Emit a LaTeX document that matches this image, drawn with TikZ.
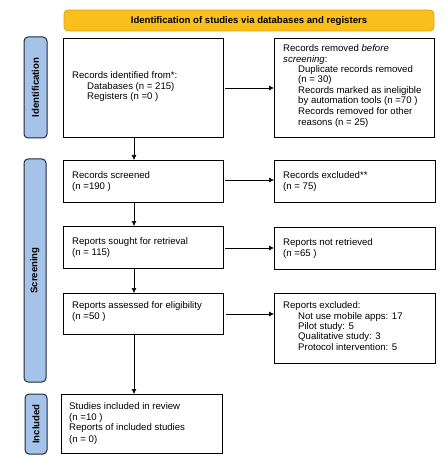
\documentclass[tikz,border=0pt]{standalone}
\usepackage{fontspec}
\setmainfont{Liberation Sans}
\usetikzlibrary{arrows.meta}
\definecolor{bannerfill}{HTML}{F9BF1C}
\definecolor{bannerdraw}{HTML}{E3A312}
\definecolor{sidefill}{HTML}{A5C3E8}
\definecolor{sidedraw}{HTML}{1E2A3A}
\begin{document}
\begin{tikzpicture}[x=1pt,y=-1pt,
  every node/.style={font=\fontsize{9.6}{10.4}\selectfont},
  box/.style={draw=black, line width=0.9pt, fill=white},
  sidebar/.style={draw=sidedraw, line width=1pt, fill=sidefill, rounded corners=4pt},
  sidelabel/.style={rotate=90, font=\fontsize{9.6}{10.4}\selectfont\bfseries},
  txt/.style={anchor=north west, inner sep=0pt, align=left},
  arr/.style={-{Latex[length=5pt,width=5pt]}, line width=0.6pt}]
\useasboundingbox (0,0) rectangle (446,465);
% banner
\draw[fill=bannerfill, draw=bannerdraw, line width=0.8pt, rounded corners=4pt] (64,10) rectangle (434,31);
\node[font=\fontsize{9.6}{10.4}\selectfont\bfseries] (banner) at (249,21) {Identification of studies via databases and registers};
% side bars
\draw[sidebar] (24,37) rectangle (47,138);
\node[sidelabel] (sidA) at (35.5,87.5) {Identification};
\draw[sidebar] (24,159) rectangle (46,382);
\node[sidelabel] (sidB) at (35,270.5) {Screening};
\draw[sidebar] (25,394) rectangle (47,454);
\node[sidelabel] (sidC) at (36,424) {Included};
% left boxes
\node[box, minimum width=160, minimum height=99, anchor=north west] (b1) at (63,38) {};
\node[box, minimum width=160, minimum height=42, anchor=north west] (b2) at (63,160) {};
\node[box, minimum width=160, minimum height=42, anchor=north west] (b3) at (63,226) {};
\node[box, minimum width=160, minimum height=41, anchor=north west] (b4) at (63,293) {};
\node[box, minimum width=161, minimum height=59, anchor=north west] (b5) at (61,394) {};
% right boxes
\node[box, minimum width=160, minimum height=99, anchor=north west] (r1) at (274,38) {};
\node[box, minimum width=161, minimum height=42, anchor=north west] (r2) at (274,160) {};
\node[box, minimum width=161, minimum height=42, anchor=north west] (r3) at (274,227) {};
\node[box, minimum width=161, minimum height=70, anchor=north west] (r4) at (274,293) {};
% texts
\node[txt] (t1) at (72,71.5) {Records identified from*:\\\hspace*{15pt}Databases (n = 215)\\\hspace*{15pt}Registers (n =0 )};
\node[txt] (tr1) at (283,44.5) {Records removed \textit{before}\\\textit{screening}:\\\hspace*{15pt}Duplicate records removed\\\hspace*{15pt}(n = 30)\\\hspace*{15pt}Records marked as ineligible\\\hspace*{15pt}by automation tools (n =70 )\\\hspace*{15pt}Records removed for other\\[1.5pt]\hspace*{15pt}reasons (n = 25)};
\node[txt] (t2) at (72,171.5) {Records screened\\(n =190 )};
\node[txt] (tr2) at (283,171.5) {Records excluded**\\(n = 75)};
\node[txt] (t3) at (72,237.5) {Reports sought for retrieval\\(n = 115)};
\node[txt] (tr3) at (283,238.5) {Reports not retrieved\\(n =65 )};
\node[txt] (t4) at (72,301.5) {Reports assessed for eligibility\\(n =50 )};
\node[txt] (tr4) at (283,301.5) {Reports excluded:\\\hspace*{15pt}Not use mobile apps: 17\\\hspace*{15pt}Pilot study: 5\\\hspace*{15pt}Qualitative study: 3\\\hspace*{15pt}Protocol intervention: 5};
\node[txt] (t5) at (69,402.5) {Studies included in review\\(n =10 )\\Reports of included studies\\[1.5pt](n = 0)};
% coordinates for vertical arrows
\coordinate (v1a) at (134,137);
\coordinate (v1b) at (134,160);
\coordinate (v2a) at (134,202);
\coordinate (v2b) at (134,226);
\coordinate (v3a) at (134,268);
\coordinate (v3b) at (134,293);
\coordinate (v4a) at (134,334);
\coordinate (v4b) at (134,394);
\draw[arr] (v1a) -- (v1b);
\draw[arr] (v2a) -- (v2b);
\draw[arr] (v3a) -- (v3b);
\draw[arr] (v4a) -- (v4b);
% horizontal arrows
\draw[arr] (225,88) -- (r1.west |- 0,88);
\draw[arr] (225,180) -- (r2.west |- 0,180);
\draw[arr] (225,248) -- (r3.west |- 0,248);
\draw[arr] (226,314) -- (r4.west |- 0,314);
\end{tikzpicture}
\end{document}
